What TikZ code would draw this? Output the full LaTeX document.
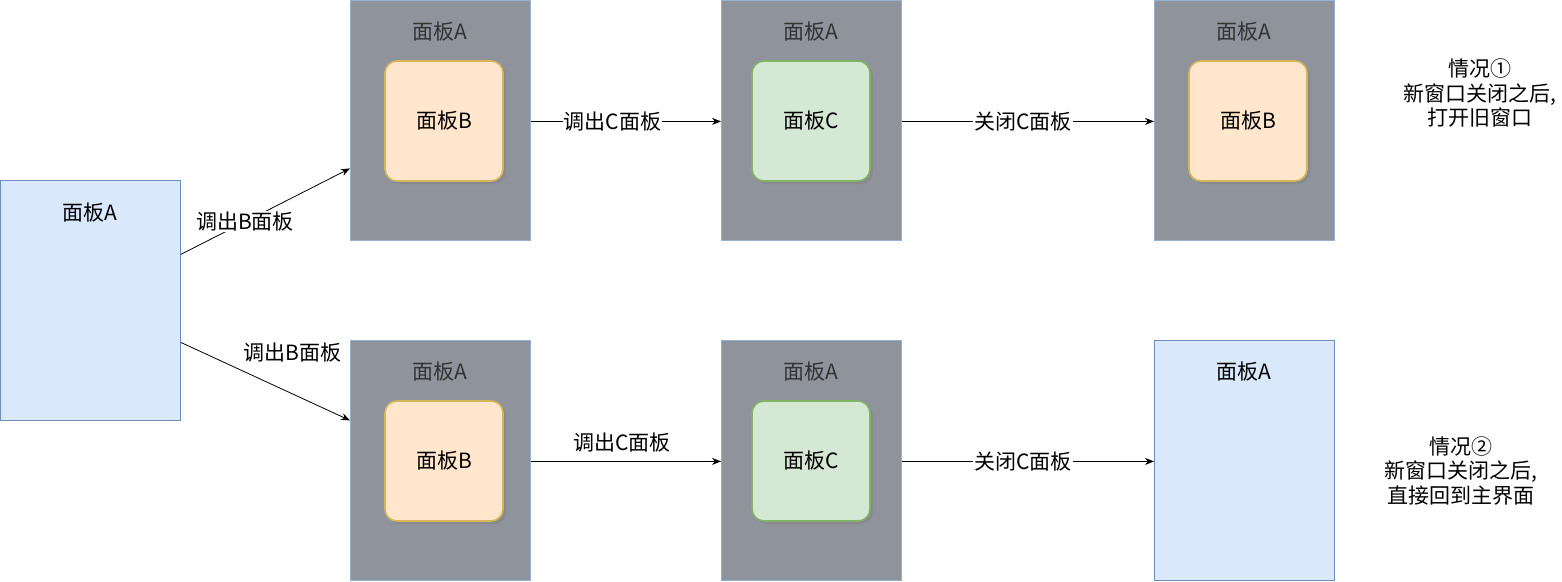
\documentclass[tikz,border=0pt]{standalone}
\usepackage{fontspec}
\setmainfont{Noto Sans CJK SC}
\usetikzlibrary{arrows.meta,shadows}
\definecolor{bluefill}{HTML}{DAE8FC}
\definecolor{bluedraw}{HTML}{6C8EBF}
\definecolor{grayfill}{HTML}{8F939B}
\definecolor{orangefill}{HTML}{FFE6CC}
\definecolor{orangedraw}{HTML}{D6B656}
\definecolor{greenfill}{HTML}{D5E8D4}
\definecolor{greendraw}{HTML}{82B366}
\definecolor{paneltext}{HTML}{333333}
\tikzset{
  every node/.style={font=\fontsize{21}{24.5}\selectfont},
  bluepanel/.style={draw=bluedraw, fill=bluefill, line width=0.8pt, minimum width=180pt, minimum height=240pt, inner sep=0pt, anchor=north west},
  graypanel/.style={draw=bluedraw!70, fill=grayfill, line width=0.8pt, minimum width=180pt, minimum height=240pt, inner sep=0pt, anchor=north west},
  innerbox/.style={rounded corners=12pt, line width=1.6pt, minimum width=118pt, minimum height=120pt, inner sep=0pt, drop shadow={shadow xshift=3pt, shadow yshift=-3pt, opacity=0.45}},
  obox/.style={innerbox, draw=orangedraw, fill=orangefill},
  gbox/.style={innerbox, draw=greendraw, fill=greenfill},
  arr/.style={-{Stealth[length=9pt,width=7pt]}, line width=0.8pt},
  onl/.style={fill=white, inner sep=1pt},
  ptitle/.style={text=paneltext},
}
\begin{document}
\begin{tikzpicture}[x=1pt,y=-1pt]
\useasboundingbox (0,0) rectangle (1562,581);
% left panel
\node[bluepanel] (A) at (0,180) {};
\node at (90,213) (Al) {面板A};
% top row
\node[graypanel] (P1) at (350,0) {};
\node[ptitle] (P1l) at (440,32) {面板A};
\node[obox] (B1) at (444,121) {面板B};
\node[graypanel] (P2) at (721,0) {};
\node[ptitle] (P2l) at (811,32) {面板A};
\node[gbox] (C1) at (811,121) {面板C};
\node[graypanel] (P3) at (1154,0) {};
\node[ptitle] (P3l) at (1244,32) {面板A};
\node[obox] (B3) at (1248,121) {面板B};
% bottom row
\node[graypanel] (Q1) at (350,340) {};
\node[ptitle] (Q1l) at (440,372) {面板A};
\node[obox] (B2) at (444,461) {面板B};
\node[graypanel] (Q2) at (721,340) {};
\node[ptitle] (Q2l) at (811,372) {面板A};
\node[gbox] (C2) at (811,461) {面板C};
\node[bluepanel] (Q3) at (1154,340) {};
\node (Q3l) at (1244,372) {面板A};
% notes
\node[align=center] (N1) at (1480,93) {情况①\\新窗口关闭之后,\\打开旧窗口};
\node[align=center] (N2) at (1461,471) {情况②\\新窗口关闭之后,\\直接回到主界面};
% connectors
\draw[arr] ([yshift=46pt]A.east) -- ([yshift=-48pt]P1.west) node[onl, pos=0.38] {调出B面板};
\draw[arr] ([yshift=-42pt]A.east) -- ([yshift=40pt]Q1.west) node[pos=0.66, yshift=41pt] {调出B面板};
\draw[arr] ([yshift=-1pt]P1.east) -- ([yshift=-1pt]P2.west) node[onl, pos=0.43] {调出C面板};
\draw[arr] ([yshift=-1pt]P2.east) -- ([yshift=-1pt]P3.west) node[onl, pos=0.48] {关闭C面板};
\draw[arr] ([yshift=-1pt]Q1.east) -- ([yshift=-1pt]Q2.west) node[pos=0.48, yshift=19pt] {调出C面板};
\draw[arr] ([yshift=-1pt]Q2.east) -- ([yshift=-1pt]Q3.west) node[onl, pos=0.48] {关闭C面板};
\end{tikzpicture}
\end{document}
